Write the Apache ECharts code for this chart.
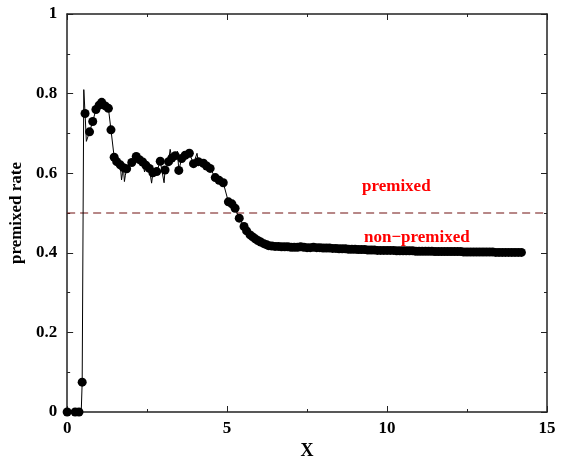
<!DOCTYPE html>
<html><head><meta charset="utf-8">
<script src="https://cdn.jsdelivr.net/npm/echarts@6/dist/echarts.min.js"></script>
<style>html,body{margin:0;padding:0;background:#fff}#c{width:565px;height:465px}</style>
</head><body><div id="c"></div>
<script>
// Marked data points (x, premixed rate)
var markX = [0, 0.25, 0.37, 0.47, 0.56, 0.70, 0.80, 0.90, 1.00, 1.08, 1.19, 1.29, 1.37, 1.47, 1.55, 1.66, 1.76, 1.86,
  2.02, 2.16, 2.26, 2.36, 2.46, 2.57, 2.68, 2.80, 2.91, 3.06, 3.17, 3.27, 3.38, 3.49, 3.58, 3.69, 3.82, 3.95,
  4.10, 4.26, 4.36, 4.47, 4.63, 4.75, 4.88, 5.04, 5.15, 5.25, 5.38, 5.53, 5.61, 5.72, 5.80, 5.88, 5.96, 6.05, 6.15, 6.24,
  6.3, 6.4, 6.5, 6.6, 6.7, 6.8, 6.9, 7.0,
  7.1, 7.2, 7.3, 7.4, 7.5, 7.6, 7.7, 7.8, 7.9, 8.0,
  8.1, 8.2, 8.3, 8.4, 8.5, 8.6, 8.7, 8.8, 8.9, 9.0,
  9.1, 9.2, 9.3, 9.4, 9.5, 9.6, 9.7, 9.8, 9.9, 10.0,
  10.1, 10.2, 10.3, 10.4, 10.5, 10.6, 10.7, 10.8, 10.9, 11.0,
  11.1, 11.2, 11.3, 11.4, 11.5, 11.6, 11.7, 11.8, 11.9, 12.0,
  12.1, 12.2, 12.3, 12.4, 12.5, 12.6, 12.7, 12.8, 12.9, 13.0,
  13.1, 13.2, 13.3, 13.4, 13.5, 13.6, 13.7, 13.8, 13.9, 14.0, 14.1, 14.2];
var markY = [0, 0, 0, 0.075, 0.750, 0.704, 0.730, 0.760, 0.771, 0.778, 0.769, 0.763, 0.709, 0.640, 0.629, 0.621, 0.614, 0.611,
  0.627, 0.642, 0.634, 0.628, 0.620, 0.612, 0.601, 0.604, 0.630, 0.608, 0.629, 0.638, 0.644, 0.607, 0.637, 0.645, 0.650, 0.624,
  0.629, 0.625, 0.618, 0.612, 0.589, 0.582, 0.576, 0.528, 0.523, 0.512, 0.487, 0.466, 0.455, 0.445, 0.440, 0.435, 0.431, 0.427, 0.423, 0.420,
  0.418, 0.417, 0.416, 0.416, 0.415, 0.415, 0.415, 0.414,
  0.414, 0.414, 0.415, 0.414, 0.413, 0.413, 0.414, 0.413, 0.413, 0.412,
  0.412, 0.412, 0.411, 0.411, 0.410, 0.410, 0.410, 0.409, 0.409, 0.409,
  0.408, 0.408, 0.408, 0.407, 0.407, 0.407, 0.406, 0.406, 0.406, 0.406,
  0.406, 0.406, 0.405, 0.405, 0.405, 0.405, 0.405, 0.405, 0.404, 0.404,
  0.404, 0.404, 0.404, 0.404, 0.403, 0.403, 0.403, 0.403, 0.403, 0.403,
  0.403, 0.403, 0.403, 0.402, 0.402, 0.402, 0.402, 0.402, 0.402, 0.402,
  0.402, 0.402, 0.402, 0.401, 0.401, 0.401, 0.401, 0.401, 0.401, 0.401, 0.401, 0.401];
// Unmarked trace points (spikes of the raw line)
var spikeX = [0.44, 0.52, 0.60, 1.70, 1.73, 1.79, 1.82, 2.42, 2.64, 3.03, 3.22, 3.45, 4.06];
var spikeY = [0.000, 0.810, 0.680, 0.583, 0.600, 0.579, 0.595, 0.603, 0.575, 0.576, 0.660, 0.655, 0.650];
// Reference threshold
var threshold = 0.5;
var xTicks = [0, 5, 10, 15];
var yTicks = [0, 0.2, 0.4, 0.6, 0.8, 1];

var marks = markX.map(function (x, i) { return [x, markY[i]]; });
var trace = marks.concat(spikeX.map(function (x, i) { return [x, spikeY[i]]; }))
  .sort(function (a, b) { return a[0] - b[0]; });

var serif = 'Liberation Serif, Times New Roman, serif';
var axisCol = '#222';
function baseAxis(extra) {
  var a = {
    axisLine: { show: true, onZero: false, lineStyle: { color: axisCol, width: 1.5 } },
    axisTick: { show: true, inside: true, length: 6, lineStyle: { color: axisCol } },
    minorTick: { show: true, splitNumber: 2, length: 3, lineStyle: { color: axisCol } },
    splitLine: { show: false },
    axisLabel: { color: '#000', fontFamily: serif, fontWeight: 'bold', fontSize: 17 }
  };
  for (var k in extra) a[k] = extra[k];
  return a;
}

var chart = echarts.init(document.getElementById('c'));
chart.setOption({
  animation: false,
  backgroundColor: '#fff',
  grid: { left: 67, right: 18, top: 14, bottom: 53 },
  xAxis: [
    baseAxis({ type: 'value', min: xTicks[0], max: xTicks[xTicks.length - 1], interval: 5, position: 'bottom',
      name: 'X', nameLocation: 'middle', nameGap: 27,
      nameTextStyle: { color: '#000', fontFamily: serif, fontWeight: 'bold', fontSize: 18 } }),
    baseAxis({ type: 'value', min: xTicks[0], max: xTicks[xTicks.length - 1], interval: 5, position: 'top',
      axisLabel: { show: false } })
  ],
  yAxis: [
    baseAxis({ type: 'value', min: yTicks[0], max: yTicks[yTicks.length - 1], interval: 0.2, position: 'left',
      axisLabel: { color: '#000', fontFamily: serif, fontWeight: 'bold', fontSize: 17, margin: 10 },
      name: 'premixed rate', nameLocation: 'middle', nameGap: 40,
      nameTextStyle: { color: '#000', fontFamily: serif, fontWeight: 'bold', fontSize: 17 } }),
    baseAxis({ type: 'value', min: yTicks[0], max: yTicks[yTicks.length - 1], interval: 0.2, position: 'right',
      axisLabel: { show: false } })
  ],
  series: [
    {
      type: 'line', data: [[xTicks[0], threshold], [xTicks[xTicks.length - 1], threshold]],
      showSymbol: false, symbol: 'none', silent: true,
      lineStyle: { color: '#701010', width: 1.2, type: [8, 5] }, z: 1
    },
    {
      type: 'line', data: trace, showSymbol: false, symbol: 'none',
      lineStyle: { color: '#000', width: 1 }, z: 2
    },
    {
      type: 'scatter', data: marks, symbol: 'circle', symbolSize: 9,
      itemStyle: { color: '#000', opacity: 1 }, z: 3
    }
  ],
  graphic: [
    { type: 'text', left: 362, top: 178, style: { text: 'premixed', fill: '#ff0000', font: 'bold 17px ' + serif } },
    { type: 'text', left: 364, top: 229, style: { text: 'non\u2212premixed', fill: '#ff0000', font: 'bold 17px ' + serif } }
  ]
});
</script>
</body></html>
